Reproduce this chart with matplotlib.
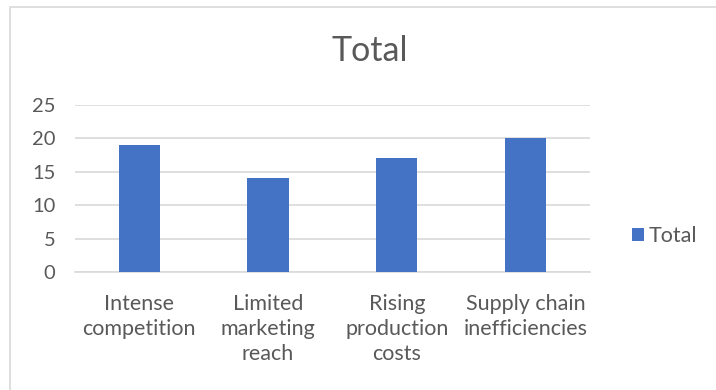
import matplotlib.pyplot as plt
from matplotlib.patches import Rectangle, Patch

categories = ["Intense\ncompetition", "Limited\nmarketing\nreach",
              "Rising\nproduction\ncosts", "Supply chain\ninefficiencies"]
totals = [19, 14, 17, 20]
yticks = [0, 5, 10, 15, 20, 25]

bar_color = "#4472C4"
text_color = "#595959"
grid_color = "#D9D9D9"

plt.rcParams["font.family"] = ["Lato", "DejaVu Sans"]

fig = plt.figure(figsize=(7.16, 3.9), dpi=100)
ax = fig.add_axes([0.1047, 0.3026, 0.7193, 0.4282])

x = range(len(categories))
ax.bar(x, totals, width=0.32, color=bar_color, zorder=3)

ax.set_xlim(-0.5, len(categories) - 0.5)
ax.set_ylim(0, 25)
ax.set_yticks(yticks)
ax.set_xticks(list(x))
ax.set_xticklabels(categories, linespacing=1.32)

ax.grid(axis="y", color=grid_color, linewidth=1.2, zorder=0)
for side in ["top", "right", "left"]:
    ax.spines[side].set_visible(False)
ax.spines["bottom"].set_color(grid_color)
ax.spines["bottom"].set_linewidth(1.2)

ax.tick_params(axis="y", length=0, pad=14, labelsize=14.5, labelcolor=text_color)
ax.tick_params(axis="x", length=0, pad=16, labelsize=15.5, labelcolor=text_color)

fig.text(0.517, 0.87, "Total", ha="center", va="center", fontsize=24.5,
         color=text_color)

# legend on the right
handle = Patch(facecolor=bar_color, edgecolor="none", label="Total")
fig.legend(handles=[handle], loc="center left", bbox_to_anchor=(0.882, 0.395),
           frameon=False, fontsize=15.5, labelcolor=text_color,
           handlelength=0.6, handleheight=0.6, handletextpad=0.2,
           borderaxespad=0, borderpad=0)

# chart area outline
fig.patches.append(Rectangle((10 / 716, -0.2), 1.2, 1.2 - 7 / 390,
                             transform=fig.transFigure, fill=False,
                             edgecolor=grid_color, linewidth=1.2))

fig.savefig("out.png", dpi=100)
